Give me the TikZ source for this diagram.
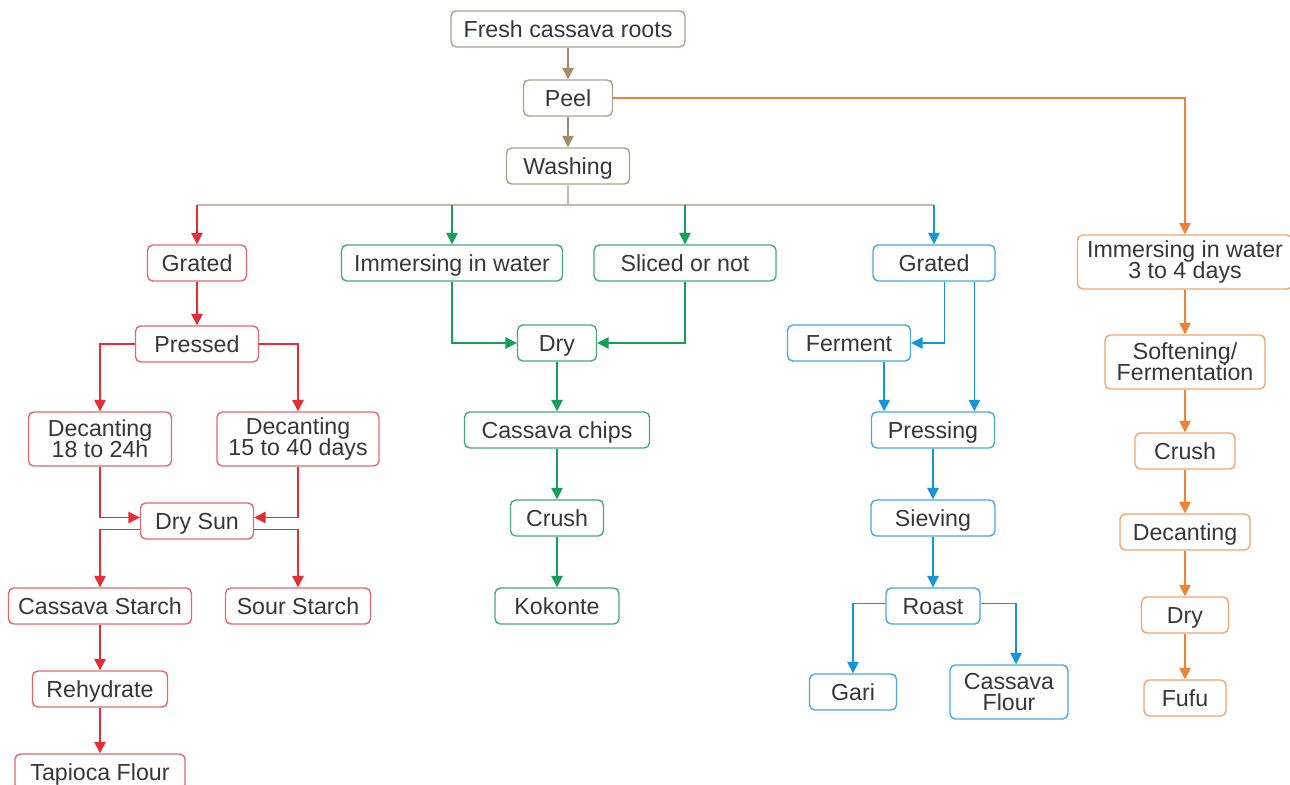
\documentclass[tikz,border=0pt]{standalone}
\usepackage{fontspec}
\setmainfont{Liberation Sans}
\usepackage{tikz}
\usetikzlibrary{arrows.meta, positioning}
\definecolor{TextGray}{RGB}{55, 55, 55}
\definecolor{BrownLine}{RGB}{165, 140, 110}
\definecolor{BrownBox}{RGB}{175, 160, 140}
\definecolor{BusTan}{RGB}{195, 185, 170}
\definecolor{RedLine}{RGB}{228, 45, 55}
\definecolor{RedBox}{RGB}{225, 105, 110}
\definecolor{GreenLine}{RGB}{20, 160, 85}
\definecolor{GreenBox}{RGB}{70, 170, 125}
\definecolor{BlueLine}{RGB}{20, 150, 215}
\definecolor{BlueBox}{RGB}{70, 170, 220}
\definecolor{OrangeLine}{RGB}{240, 130, 50}
\definecolor{OrangeBox}{RGB}{240, 165, 105}
\newcommand\boxfont{\fontsize{13.2}{12}\selectfont\lineskiplimit=-20pt\relax}

\begin{document}
\begin{tikzpicture}[
          x=0.02cm, y=-0.02cm,
          box/.style={draw, fill=white, rounded corners=3pt, line width=0.8pt,
                      text=TextGray, font=\boxfont,
                      align=center, inner sep=0pt, minimum height=0.72cm,
                      text height=11pt, text depth=1.55pt},
          wd/.style={minimum width=#1*0.02cm},
          tall/.style={minimum height=1.08cm, text height={}, text depth={}},
          brownbox/.style={box, draw=BrownBox},
          redbox/.style={box, draw=RedBox},
          greenbox/.style={box, draw=GreenBox},
          bluebox/.style={box, draw=BlueBox},
          orangebox/.style={box, draw=OrangeBox},
          arr/.style={-{Triangle[length=6.5pt, width=6.5pt]}, line width=0.8pt},
          brownarr/.style={arr, BrownLine},
          redarr/.style={arr, RedLine},
          greenarr/.style={arr, GreenLine},
          bluearr/.style={arr, BlueLine},
          orangearr/.style={arr, OrangeLine}
        ]
        \fill[white] (0,0) rectangle (1290,784);
        \useasboundingbox (0,0) rectangle (1290,784);
        % top chain
        \node[brownbox, wd=234] (fresh) at (568,29) {Fresh cassava roots};
        \node[brownbox, wd=89] (peel) at (568,98) {Peel};
        \node[brownbox, wd=123] (wash) at (568,166) {Washing};
        % starch branch
        \node[redbox, wd=99] (grR) at (197,263) {Grated};
        \node[redbox, wd=123] (pr) at (197,344) {Pressed};
        \node[redbox, wd=143, tall] (dc1) at (100,439) {Decanting\\18 to 24h};
        \node[redbox, wd=162, tall] (dc2) at (298,439) {Decanting\\15 to 40 days};
        \node[redbox, wd=113] (ds) at (197,521) {Dry Sun};
        \node[redbox, wd=183] (cs) at (100,606) {Cassava Starch};
        \node[redbox, wd=145] (ss) at (298,606) {Sour Starch};
        \node[redbox, wd=135] (rh) at (100,689) {Rehydrate};
        \node[redbox, wd=170] (tf) at (100,772) {Tapioca Flour};
        % chips branch
        \node[greenbox, wd=221] (imw) at (452,263) {Immersing in water};
        \node[greenbox, wd=182] (sl) at (685,263) {Sliced or not};
        \node[greenbox, wd=79] (dry) at (557,343) {Dry};
        \node[greenbox, wd=185] (cc) at (557,430) {Cassava chips};
        \node[greenbox, wd=93] (cr) at (557,518) {Crush};
        \node[greenbox, wd=124] (ko) at (557,606) {Kokonte};
        % gari branch
        \node[bluebox, wd=122] (grB) at (934,263) {Grated};
        \node[bluebox, wd=123] (fe) at (849,343) {Ferment};
        \node[bluebox, wd=123] (pg) at (933,430) {Pressing};
        \node[bluebox, wd=124] (sv) at (933,518) {Sieving};
        \node[bluebox, wd=94] (ro) at (933,606) {Roast};
        \node[bluebox, wd=87] (ga) at (853,692) {Gari};
        \node[bluebox, wd=118, tall] (cf) at (1009,692) {Cassava\\Flour};
        % fufu branch
        \node[orangebox, wd=215, tall] (im2) at (1185,262) {Immersing in water\\3 to 4 days};
        \node[orangebox, wd=160, tall] (so) at (1185,362) {Softening/\\Fermentation};
        \node[orangebox, wd=100] (cr2) at (1185,451) {Crush};
        \node[orangebox, wd=130] (dec) at (1185,532) {Decanting};
        \node[orangebox, wd=87] (dry2) at (1185,615) {Dry};
        \node[orangebox, wd=82] (fu) at (1185,698) {Fufu};
        % connectors
        \coordinate (bus) at (568,205);
        \draw[brownarr] (fresh) -- (peel);
        \draw[brownarr] (peel) -- (wash);
        \draw[line width=0.8pt, BusTan] (wash.south) -- (bus);
        \draw[line width=0.8pt, BusTan] (grR |- bus) -- (grB |- bus);
        \draw[redarr] (grR |- bus) -- (grR.north);
        \draw[greenarr] (imw |- bus) -- (imw.north);
        \draw[greenarr] (sl |- bus) -- (sl.north);
        \draw[bluearr] (grB |- bus) -- (grB.north);
        \draw[orangearr] (peel.east) -| (im2.north);
        % red
        \draw[redarr] (grR) -- (pr);
        \draw[redarr] (pr.west) -| (dc1.north);
        \draw[redarr] (pr.east) -| (dc2.north);
        \draw[redarr] (dc1.south) |- ([yshift=2pt]ds.west);
        \draw[redarr] (dc2.south) |- ([yshift=2pt]ds.east);
        \draw[redarr] ([yshift=-5pt]ds.west) -| (cs.north);
        \draw[redarr] ([yshift=-5pt]ds.east) -| (ss.north);
        \draw[redarr] (cs) -- (rh);
        \draw[redarr] (rh) -- (tf);
        % green
        \draw[greenarr] (imw.south) |- (dry.west);
        \draw[greenarr] (sl.south) |- (dry.east);
        \foreach \x/\y in {dry/cc, cc/cr, cr/ko}
          \draw[greenarr] (\x) -- (\y);
        % blue
        \draw[bluearr] ([xshift=6pt]grB.south) |- (fe.east);
        \draw[bluearr] ([xshift=23pt]grB.south) -- ([xshift=23pt]grB.south |- pg.north);
        \draw[bluearr] ([xshift=20pt]fe.south) -- ([xshift=20pt]fe.south |- pg.north);
        \draw[bluearr] (pg) -- (sv);
        \draw[bluearr] (sv) -- (ro);
        \draw[bluearr] ([yshift=1.5pt]ro.west) -| (ga.north);
        \draw[bluearr] ([yshift=1.5pt]ro.east) -| ([xshift=4pt]cf.north);
        % orange
        \foreach \x/\y in {im2/so, so/cr2, cr2/dec, dec/dry2, dry2/fu}
          \draw[orangearr] (\x) -- (\y);
      \end{tikzpicture}
\end{document}
